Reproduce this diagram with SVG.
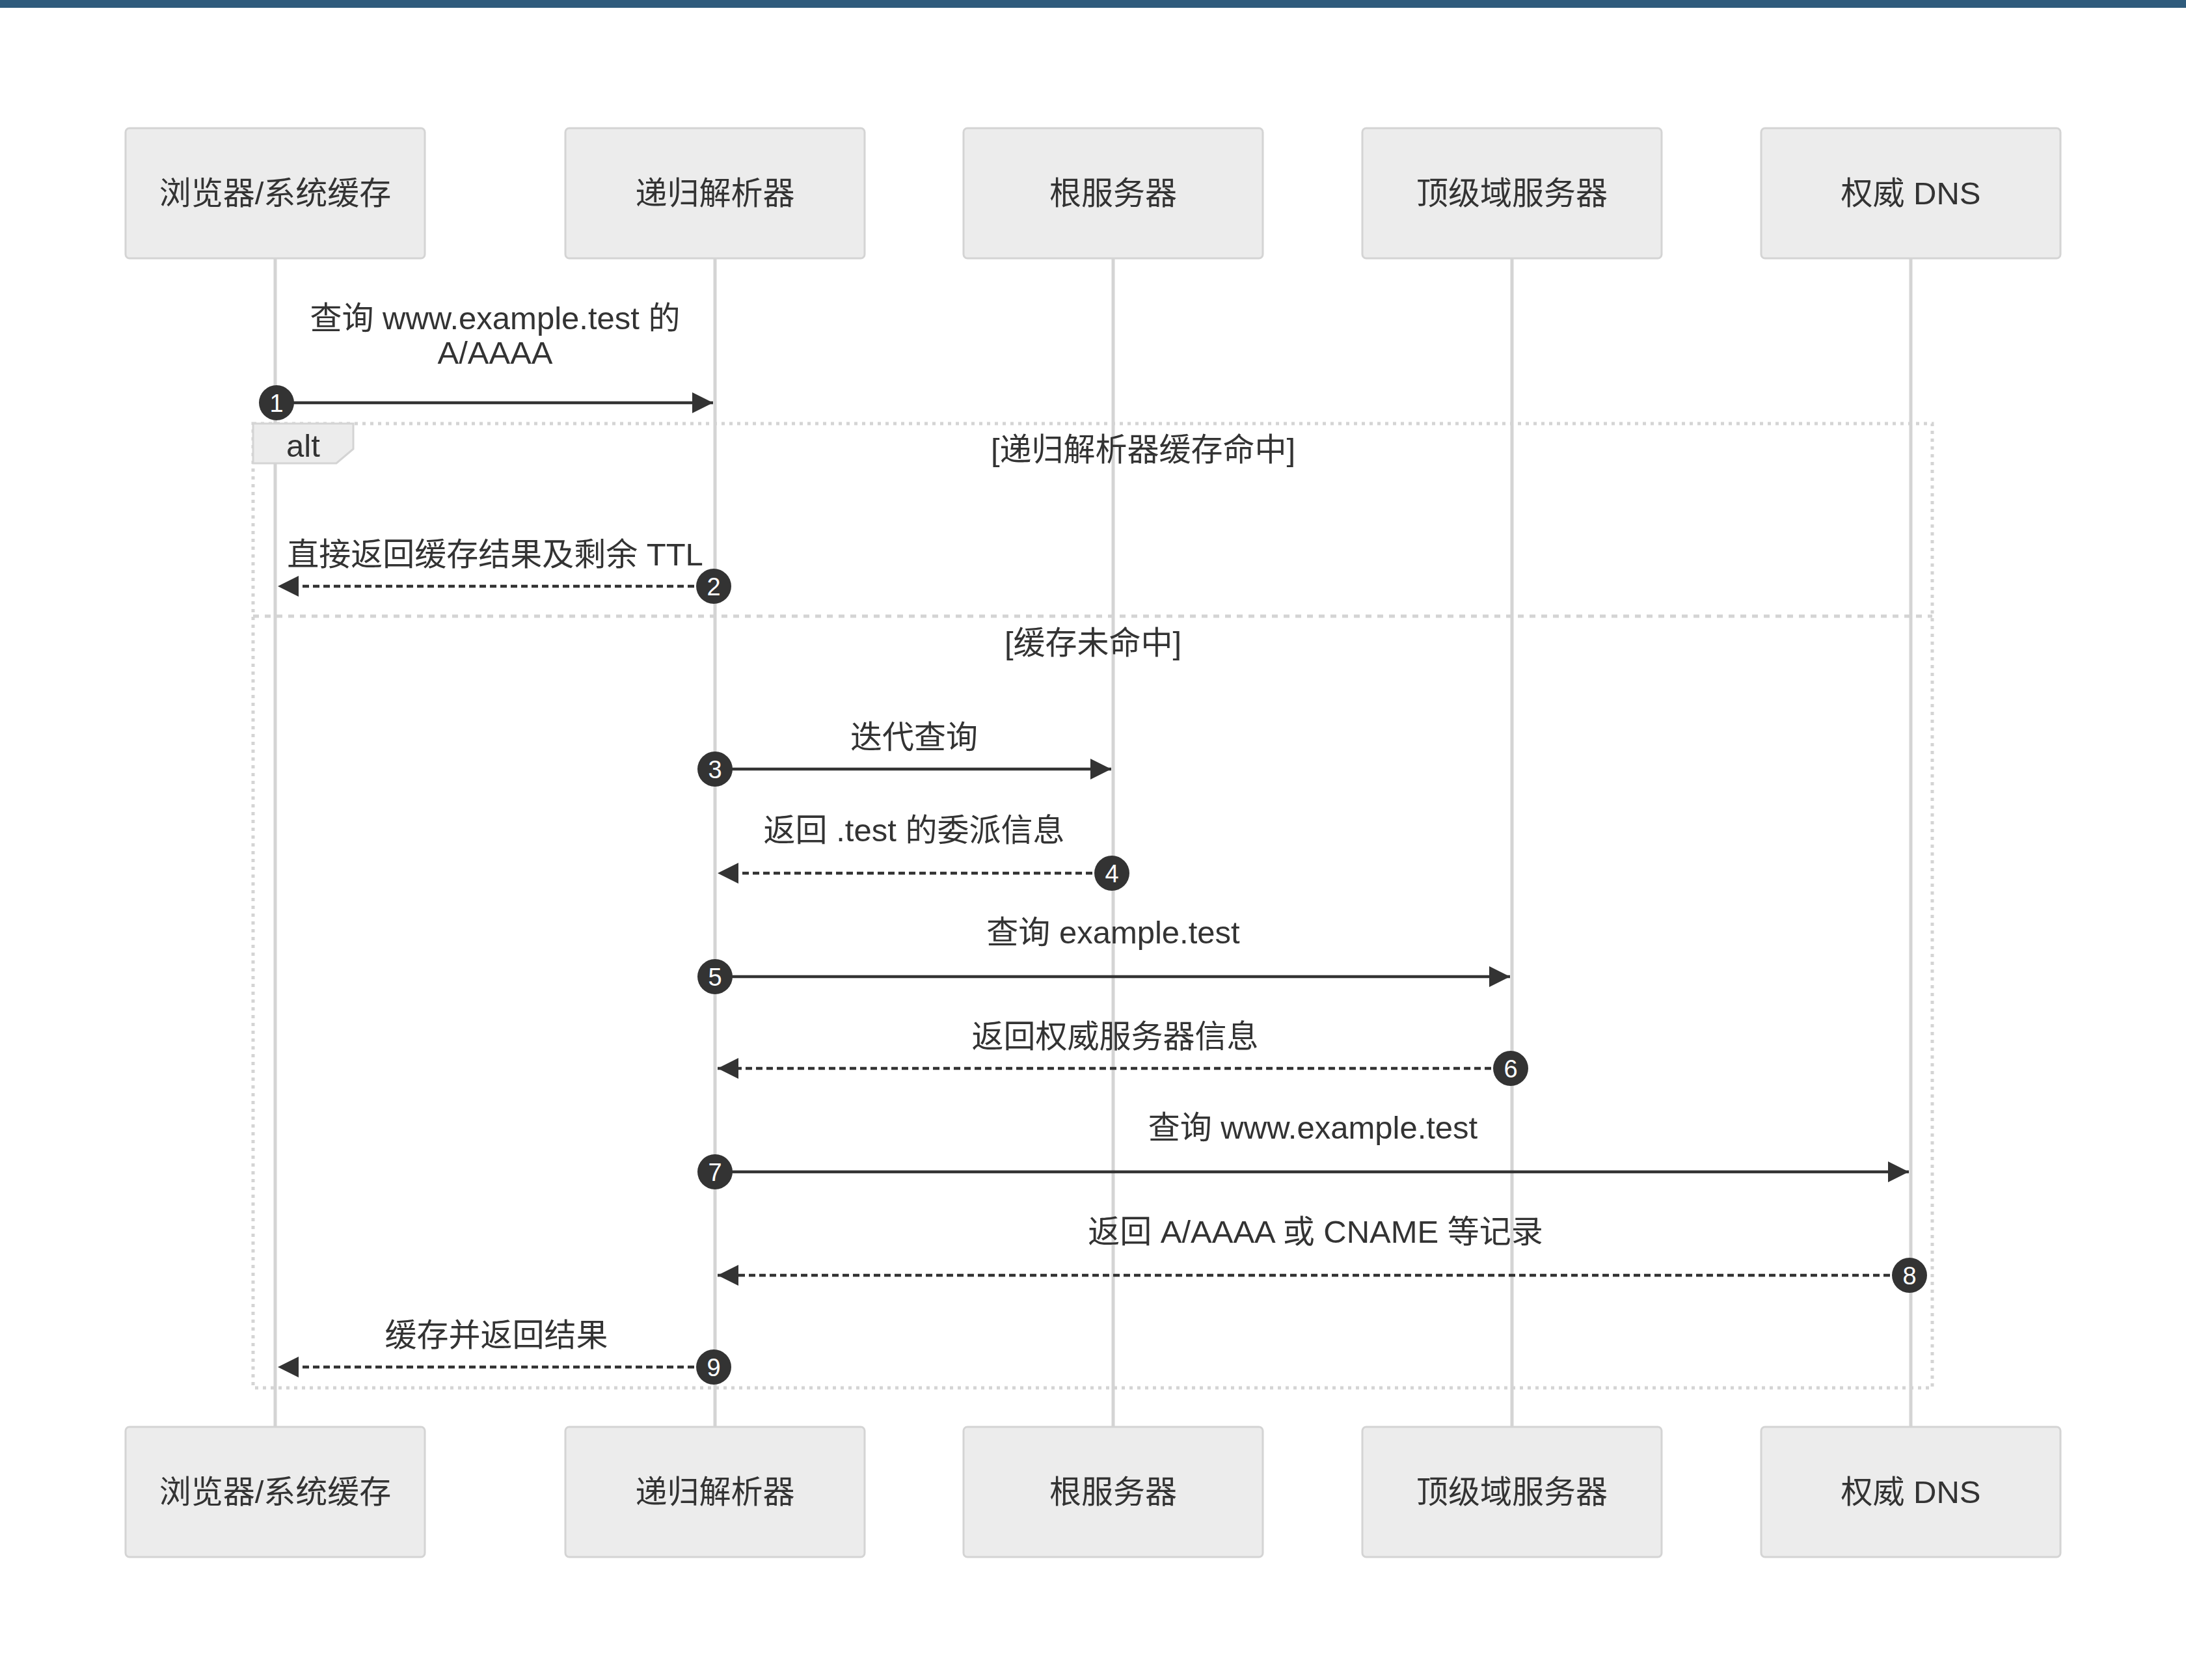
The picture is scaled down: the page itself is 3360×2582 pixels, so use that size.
<svg xmlns="http://www.w3.org/2000/svg" width="3360" height="2582" viewBox="0 0 3360 2582">
<defs>
<style>
.actor rect{fill:#ececec;stroke:#d4d4d4;stroke-width:3}
.t{font-family:"Liberation Sans","Noto Sans CJK SC",sans-serif;font-size:49px;fill:#333;text-anchor:middle}
.life{stroke:#d4d4d4;stroke-width:5}
.msg{stroke:#333;stroke-width:4.5;fill:none}
.dash{stroke-dasharray:10,6}
.num circle{fill:#333}
.num text{font-family:"Liberation Sans",sans-serif;font-size:38px;fill:#fff;text-anchor:middle}
.loop{fill:none;stroke:#d4d4d4;stroke-width:5;stroke-dasharray:5,7}
.div{fill:none;stroke:#d4d4d4;stroke-width:5;stroke-dasharray:9,9}
</style>
<marker id="ah" viewBox="0 0 10 10" refX="10" refY="5" markerUnits="userSpaceOnUse" markerWidth="34" markerHeight="32" orient="auto">
<path d="M0,0 L10,5 L0,10 z" fill="#333"/>
</marker>
</defs>
<rect x="0" y="0" width="3360" height="2582" fill="#fff"/>
<rect x="0" y="0" width="3360" height="12" fill="#2f5b7c"/>

<g id="lifelines">
<line class="life" x1="423" y1="397" x2="423" y2="2193"/>
<line class="life" x1="1099" y1="397" x2="1099" y2="2193"/>
<line class="life" x1="1711" y1="397" x2="1711" y2="2193"/>
<line class="life" x1="2324" y1="397" x2="2324" y2="2193"/>
<line class="life" x1="2937" y1="397" x2="2937" y2="2193"/>
</g>

<g id="alt">
<rect class="loop" x="389" y="651" width="2581" height="1482"/>
<line class="div" x1="389" y1="947" x2="2970" y2="947"/>
<path d="M389,651 L543,651 L543,690 L517,712 L389,712 z" fill="#ececec" stroke="#d4d4d4" stroke-width="3"/>
<text class="t" x="466" y="702">alt</text>
<text class="t" x="1757" y="708">[递归解析器缓存命中]</text>
<text class="t" x="1680" y="1005">[缓存未命中]</text>
</g>

<g id="actor-browser-top" class="actor"><rect x="193" y="197" width="460" height="200" rx="6"/><text class="t" x="423" y="314">浏览器/系统缓存</text></g>
<g id="actor-resolver-top" class="actor"><rect x="869" y="197" width="460" height="200" rx="6"/><text class="t" x="1099" y="314">递归解析器</text></g>
<g id="actor-root-top" class="actor"><rect x="1481" y="197" width="460" height="200" rx="6"/><text class="t" x="1711" y="314">根服务器</text></g>
<g id="actor-tld-top" class="actor"><rect x="2094" y="197" width="460" height="200" rx="6"/><text class="t" x="2324" y="314">顶级域服务器</text></g>
<g id="actor-auth-top" class="actor"><rect x="2707" y="197" width="460" height="200" rx="6"/><text class="t" x="2937" y="314">权威 DNS</text></g>

<g id="actor-browser-bottom" class="actor"><rect x="193" y="2193" width="460" height="200" rx="6"/><text class="t" x="423" y="2310">浏览器/系统缓存</text></g>
<g id="actor-resolver-bottom" class="actor"><rect x="869" y="2193" width="460" height="200" rx="6"/><text class="t" x="1099" y="2310">递归解析器</text></g>
<g id="actor-root-bottom" class="actor"><rect x="1481" y="2193" width="460" height="200" rx="6"/><text class="t" x="1711" y="2310">根服务器</text></g>
<g id="actor-tld-bottom" class="actor"><rect x="2094" y="2193" width="460" height="200" rx="6"/><text class="t" x="2324" y="2310">顶级域服务器</text></g>
<g id="actor-auth-bottom" class="actor"><rect x="2707" y="2193" width="460" height="200" rx="6"/><text class="t" x="2937" y="2310">权威 DNS</text></g>

<g id="connectors">
<line class="msg" x1="423" y1="619" x2="1096" y2="619" marker-end="url(#ah)"/>
<line class="msg dash" x1="1099" y1="901" x2="427" y2="901" marker-end="url(#ah)"/>
<line class="msg" x1="1099" y1="1182" x2="1708" y2="1182" marker-end="url(#ah)"/>
<line class="msg dash" x1="1711" y1="1342" x2="1103" y2="1342" marker-end="url(#ah)"/>
<line class="msg" x1="1099" y1="1501" x2="2321" y2="1501" marker-end="url(#ah)"/>
<line class="msg dash" x1="2324" y1="1642" x2="1103" y2="1642" marker-end="url(#ah)"/>
<line class="msg" x1="1099" y1="1801" x2="2934" y2="1801" marker-end="url(#ah)"/>
<line class="msg dash" x1="2937" y1="1960" x2="1103" y2="1960" marker-end="url(#ah)"/>
<line class="msg dash" x1="1099" y1="2101" x2="427" y2="2101" marker-end="url(#ah)"/>

<text class="t" x="761" y="506">查询 www.example.test 的</text>
<text class="t" x="761" y="559">A/AAAA</text>
<text class="t" x="761" y="869">直接返回缓存结果及剩余 TTL</text>
<text class="t" x="1405" y="1150">迭代查询</text>
<text class="t" x="1405" y="1293">返回 .test 的委派信息</text>
<text class="t" x="1711" y="1450">查询 example.test</text>
<text class="t" x="1714" y="1610">返回权威服务器信息</text>
<text class="t" x="2018" y="1750">查询 www.example.test</text>
<text class="t" x="2022" y="1910">返回 A/AAAA 或 CNAME 等记录</text>
<text class="t" x="763" y="2069">缓存并返回结果</text>

<g class="num"><circle cx="425" cy="619" r="27"/><text x="425" y="633">1</text></g>
<g class="num"><circle cx="1097" cy="901" r="27"/><text x="1097" y="915">2</text></g>
<g class="num"><circle cx="1099" cy="1182" r="27"/><text x="1099" y="1196">3</text></g>
<g class="num"><circle cx="1709" cy="1342" r="27"/><text x="1709" y="1356">4</text></g>
<g class="num"><circle cx="1099" cy="1501" r="27"/><text x="1099" y="1515">5</text></g>
<g class="num"><circle cx="2322" cy="1642" r="27"/><text x="2322" y="1656">6</text></g>
<g class="num"><circle cx="1099" cy="1801" r="27"/><text x="1099" y="1815">7</text></g>
<g class="num"><circle cx="2935" cy="1960" r="27"/><text x="2935" y="1974">8</text></g>
<g class="num"><circle cx="1097" cy="2101" r="27"/><text x="1097" y="2115">9</text></g>
</g>
</svg>
